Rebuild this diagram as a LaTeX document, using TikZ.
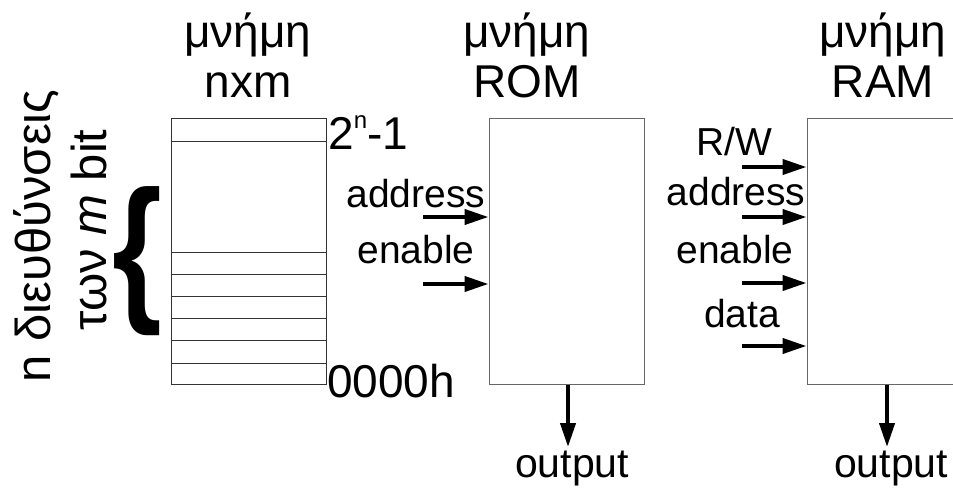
\documentclass[tikz,border=0pt]{standalone}
\usepackage{fontspec}
\setmainfont{Liberation Sans}
\usetikzlibrary{arrows.meta}
\tikzset{
  box/.style={draw=black!60,line width=1pt,inner sep=0pt,minimum width=155pt,minimum height=266pt},
  sig/.style={line width=4pt,-{Triangle[length=24pt,width=15pt]}},
  lbl/.style={font=\fontsize{39}{42}\selectfont,inner sep=0pt,anchor=base},
  big/.style={font=\fontsize{46}{50}\selectfont,inner sep=0pt,anchor=base,align=center},
  side/.style={font=\fontsize{49}{50}\selectfont,inner sep=0pt,anchor=base,rotate=90},
}
\begin{document}
\begin{tikzpicture}[x=1pt,y=-1pt]
  \clip (0,0) rectangle (953,488);
  % memory nxm
  \node[box,draw=black!80] (mem) at (248.5,251.5) {};
  \foreach \y in {141,252,274,296,318,340,363}
    \draw[black!80,line width=1pt] (mem.west |- 0,\y) -- (mem.east |- 0,\y);
  \node[big] (memtitle) at (248,97) {μνήμη\\nxm};
  \node[big,anchor=base west] (top) at (328,149) {2\raisebox{21pt}{\fontsize{24}{24}\selectfont n}-1};
  \node[big,anchor=base west] (bottom) at (327,397) {0000h};
  \node[font=\fontsize{160}{160}\selectfont\bfseries,inner sep=0pt,anchor=base,xscale=0.8] (brace) at (137,302) {\{};
  \node[side] (words) at (50,236) {n διευθύνσεις};
  \node[side] (bits) at (106,230) {των \textit{m} bit};
  % ROM
  \node[box] (rom) at (566.5,251) {};
  \node[big] (romtitle) at (527,97) {μνήμη\\ROM};
  \node[lbl] (romaddr) at (416,207) {address};
  \node[lbl] (romen) at (416,263) {enable};
  \coordinate (ra) at (423,217);
  \coordinate (re) at (423,284);
  \draw[sig] (ra) -- (rom.west |- ra);
  \draw[sig] (re) -- (rom.west |- re);
  \node[lbl,font=\fontsize{41}{42}\selectfont] (romout) at (572,477) {output};
  \draw[sig] (rom.south -| 568,0) -- (568,447);
  % RAM
  \node[box] (ram) at (884.5,251) {};
  \node[big] (ramtitle) at (883,97) {μνήμη\\RAM};
  \node[lbl] (ramrw) at (734,155) {R/W};
  \node[lbl] (ramaddr) at (736,205) {address};
  \node[lbl] (ramen) at (735,263) {enable};
  \node[lbl] (ramdata) at (742,327) {data};
  \foreach \y/\n in {167/w,217/a,283/e,346/d} {
    \coordinate (r\n) at (742,\y);
    \draw[sig] (r\n) -- (ram.west |- r\n);
  }
  \node[lbl,font=\fontsize{41}{42}\selectfont] (ramout) at (891,477) {output};
  \draw[sig] (ram.south -| 887,0) -- (887,447);
\end{tikzpicture}
\end{document}
